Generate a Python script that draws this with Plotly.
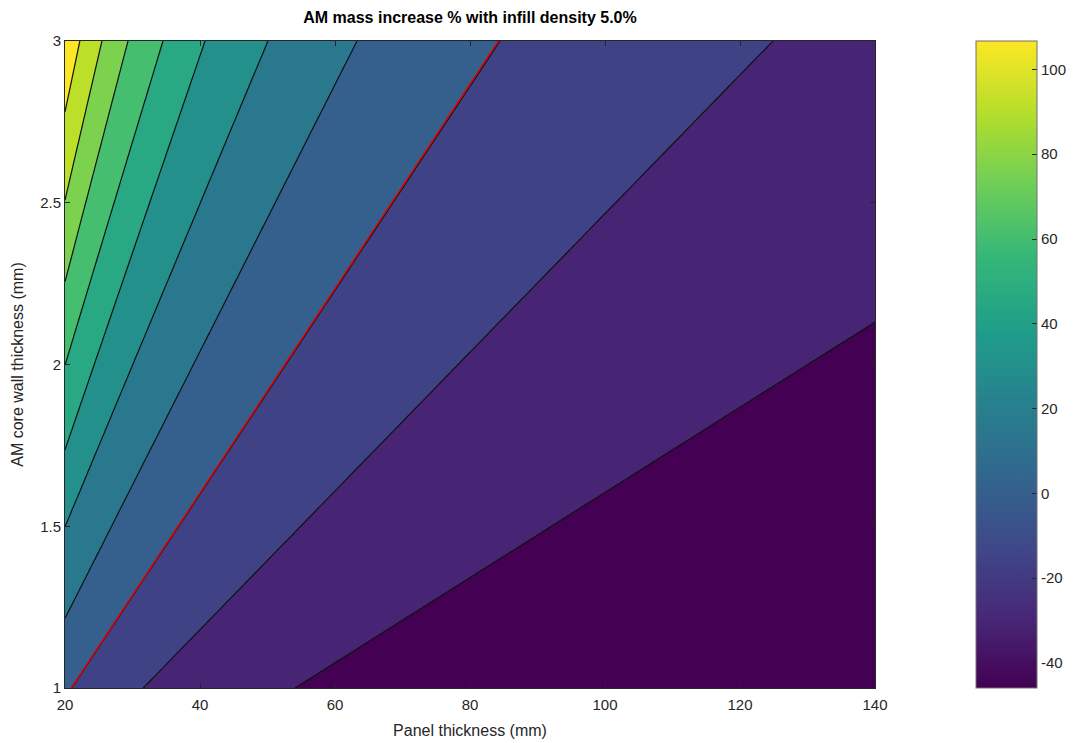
import numpy as np
import plotly.graph_objects as go

title = "AM mass increase % with infill density 5.0%"
x_label = "Panel thickness (mm)"
y_label = "AM core wall thickness (mm)"

x_ticks = [20, 40, 60, 80, 100, 120, 140]
y_ticks = [1, 1.5, 2, 2.5, 3]
y_tick_text = ["1", "1.5", "2", "2.5", "3"]
cbar_ticks = [-40, -20, 0, 20, 40, 60, 80, 100]
cbar_tick_text = ["-40", "-20", "0", "20", "40", "60", "80", "100"]

# colour axis, 10 evenly spaced filled levels
color_min = -45.9
color_max = 106.7
n_levels = 10

# each contour line (levels 1..10) read off the picture as two end points
# (panel thickness, wall thickness)
line_level = [1, 2, 3, 4, 5, 6, 7, 8, 9, 10]
line_t0 = [54.07, 31.6, 21.0, 20.0, 20.0, 20.0, 20.0, 20.0, 20.0, 20.0]
line_w0 = [1.0, 1.0, 1.0, 1.215, 1.499, 1.736, 1.998, 2.256, 2.508, 2.781]
line_t1 = [140.0, 124.9, 84.44, 63.26, 50.07, 40.74, 34.52, 29.33, 25.48, 22.2]
line_w1 = [2.131, 3.0, 3.0, 3.0, 3.0, 3.0, 3.0, 3.0, 3.0, 3.0]

step = (color_max - color_min) / n_levels
levels = np.array([color_min + k * step for k in line_level])
t0 = np.array(line_t0); w0 = np.array(line_w0)
t1 = np.array(line_t1); w1 = np.array(line_w1)
slope = (w1 - w0) / (t1 - t0)

t_grid = np.linspace(20, 140, 241)
w_grid = np.linspace(1, 3, 201)
Z = np.empty((w_grid.size, t_grid.size))
for j, t in enumerate(t_grid):
    wk = w0 + slope * (t - t0)          # wall thickness of each level line at this t
    z = np.interp(w_grid, wk, levels)
    lo = w_grid < wk[0]
    hi = w_grid > wk[-1]
    z[lo] = levels[0] - (wk[0] - w_grid[lo]) / (wk[1] - wk[0]) * step
    z[hi] = levels[-1] + (w_grid[hi] - wk[-1]) / (wk[-1] - wk[-2]) * step
    Z[:, j] = z

font_fam = "Liberation Sans, Arial, sans-serif"
axis_col = "#262626"

# page has an 8 px body margin, so the figure is made 8 px smaller
W_FIG, H_FIG = 1067, 735
M_L, M_T = 57, 33
PLOT_W, PLOT_H = 810, 647
CB_X = 911 / PLOT_W
CB_T = 61

fig = go.Figure()
fig.add_trace(go.Contour(
    x=t_grid, y=w_grid, z=Z,
    colorscale="Viridis",
    autocontour=False,
    contours=dict(start=levels[0], end=levels[-1], size=step, coloring="fill"),
    line=dict(color="#111111", width=1.2, smoothing=0),
    showscale=False,
    hoverinfo="skip",
))
fig.add_trace(go.Contour(
    x=t_grid, y=w_grid, z=Z,
    autocontour=False,
    contours=dict(start=0, end=0, size=1, coloring="none"),
    line=dict(color="#e00000", width=1.5, smoothing=0),
    showscale=False,
    hoverinfo="skip",
))
# continuous colour bar carrier
fig.add_trace(go.Scatter(
    x=[None], y=[None], mode="markers",
    marker=dict(color=[color_min, color_max], colorscale="Viridis",
                cmin=color_min, cmax=color_max, showscale=True,
                colorbar=dict(
                    x=CB_X, xanchor="left", xpad=0,
                    y=0.5, yanchor="middle", len=1, lenmode="fraction", ypad=0,
                    thickness=CB_T, thicknessmode="pixels",
                    outlinewidth=1, outlinecolor="#707070",
                    tickmode="array", tickvals=cbar_ticks, ticktext=cbar_tick_text,
                    ticks="inside", ticklen=5, tickcolor=axis_col,
                    tickfont=dict(family=font_fam, size=15, color=axis_col),
                )),
    showlegend=False, hoverinfo="skip",
))

# tick marks on the left edge of the colour bar (Octave draws them on both sides)
for v in cbar_ticks:
    yp = (v - color_min) / (color_max - color_min)
    fig.add_shape(type="line", xref="paper", yref="paper",
                  x0=CB_X, x1=CB_X + 5 / PLOT_W, y0=yp, y1=yp,
                  line=dict(color=axis_col, width=1))

fig.update_layout(
    width=W_FIG, height=H_FIG,
    margin=dict(l=M_L, r=W_FIG - M_L - PLOT_W, t=M_T, b=H_FIG - M_T - PLOT_H, autoexpand=False),
    paper_bgcolor="white", plot_bgcolor="white",
    title=dict(text="<b>" + title + "</b>", x=(M_L + PLOT_W / 2) / W_FIG, xanchor="center",
               y=1 - 9 / H_FIG, yanchor="middle",
               font=dict(family=font_fam, size=16, color="black")),
    font=dict(family=font_fam, size=15, color=axis_col),
    showlegend=False,
)
fig.update_xaxes(
    range=[20, 140], tickmode="array", tickvals=x_ticks, automargin=False,
    ticks="inside", ticklen=5, tickcolor=axis_col, mirror="ticks",
    showline=True, linecolor=axis_col, linewidth=1, showgrid=False, zeroline=False,
    ticklabelstandoff=3,
    title=dict(text=x_label, standoff=12, font=dict(size=16)),
    tickfont=dict(size=15),
)
fig.update_yaxes(
    range=[1, 3], tickmode="array", tickvals=y_ticks, ticktext=y_tick_text, automargin=False,
    ticks="inside", ticklen=5, tickcolor=axis_col, mirror="ticks",
    showline=True, linecolor=axis_col, linewidth=1, showgrid=False, zeroline=False,
    title=dict(text=y_label, standoff=12, font=dict(size=16)),
    tickfont=dict(size=15),
)

fig.write_html("out.html")
